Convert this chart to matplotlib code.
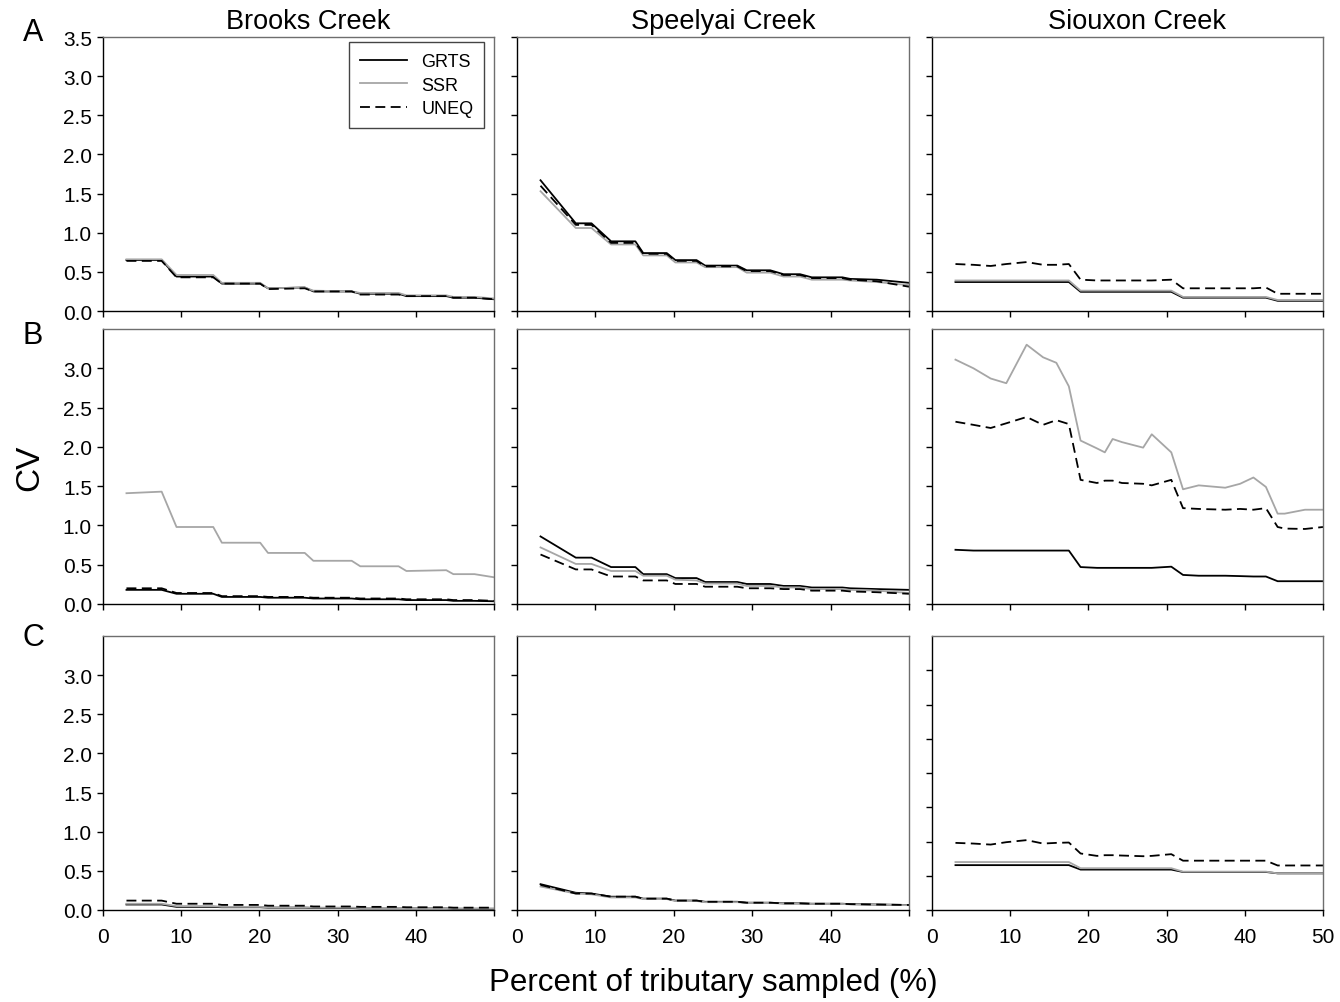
import matplotlib
matplotlib.use("Agg")
import matplotlib.pyplot as plt

plt.rcParams['font.family'] = ['Liberation Sans', 'DejaVu Sans']

# ---- data ----
creeks = ['Brooks Creek', 'Speelyai Creek', 'Siouxon Creek']
row_letters = ['A', 'B', 'C']
series_names = ['GRTS', 'SSR', 'UNEQ']

brooks_x = [3, 7.5, 9.4, 14.1, 15.2, 20.1, 21.1, 25.8, 26.9, 31.8, 32.9, 37.8, 38.8, 43.9, 44.8, 47.5, 50]
brooks_A_grts = [0.65, 0.65, 0.44, 0.44, 0.35, 0.35, 0.29, 0.30, 0.25, 0.25, 0.22, 0.22, 0.19, 0.19, 0.17, 0.17, 0.15]
brooks_A_ssr = [0.66, 0.66, 0.46, 0.46, 0.36, 0.36, 0.29, 0.30, 0.26, 0.25, 0.23, 0.23, 0.20, 0.20, 0.18, 0.18, 0.16]
brooks_A_uneq = [0.64, 0.64, 0.43, 0.43, 0.35, 0.35, 0.28, 0.29, 0.25, 0.25, 0.21, 0.21, 0.19, 0.19, 0.17, 0.17, 0.15]
brooks_B_grts = [0.18, 0.18, 0.13, 0.13, 0.09, 0.09, 0.08, 0.08, 0.07, 0.07, 0.06, 0.06, 0.05, 0.05, 0.04, 0.04, 0.035]
brooks_B_ssr = [1.41, 1.43, 0.98, 0.98, 0.78, 0.78, 0.65, 0.65, 0.55, 0.55, 0.48, 0.48, 0.42, 0.43, 0.38, 0.38, 0.34]
brooks_B_uneq = [0.20, 0.20, 0.14, 0.14, 0.10, 0.10, 0.09, 0.09, 0.08, 0.08, 0.07, 0.07, 0.06, 0.06, 0.05, 0.05, 0.04]
brooks_C_grts = [0.07, 0.07, 0.04, 0.04, 0.035, 0.035, 0.03, 0.03, 0.025, 0.025, 0.02, 0.02, 0.02, 0.02, 0.015, 0.015, 0.015]
brooks_C_ssr = [0.08, 0.08, 0.05, 0.05, 0.04, 0.04, 0.035, 0.035, 0.03, 0.03, 0.025, 0.025, 0.02, 0.02, 0.02, 0.02, 0.02]
brooks_C_uneq = [0.12, 0.12, 0.08, 0.08, 0.065, 0.065, 0.055, 0.055, 0.045, 0.045, 0.04, 0.04, 0.035, 0.035, 0.03, 0.03, 0.03]

speel_x = [3, 7.5, 9.5, 12, 15.1, 16.1, 19.1, 20.2, 22.9, 24, 28.1, 29.3, 32.3, 34, 36.1, 37.6, 41.5, 42.5, 45.9, 50]
speel_A_grts = [1.67, 1.12, 1.12, 0.89, 0.89, 0.74, 0.74, 0.65, 0.65, 0.58, 0.58, 0.52, 0.52, 0.47, 0.47, 0.43, 0.43, 0.41, 0.40, 0.36]
speel_A_ssr = [1.53, 1.06, 1.06, 0.85, 0.85, 0.71, 0.71, 0.62, 0.62, 0.56, 0.56, 0.49, 0.49, 0.44, 0.44, 0.40, 0.40, 0.39, 0.37, 0.33]
speel_A_uneq = [1.60, 1.10, 1.10, 0.87, 0.87, 0.73, 0.73, 0.64, 0.64, 0.57, 0.57, 0.51, 0.51, 0.46, 0.46, 0.42, 0.42, 0.40, 0.38, 0.31]
speel_B_grts = [0.86, 0.59, 0.59, 0.47, 0.47, 0.38, 0.38, 0.33, 0.33, 0.28, 0.28, 0.255, 0.255, 0.23, 0.23, 0.21, 0.21, 0.20, 0.19, 0.18]
speel_B_ssr = [0.72, 0.51, 0.51, 0.42, 0.42, 0.36, 0.36, 0.31, 0.30, 0.26, 0.26, 0.23, 0.23, 0.21, 0.21, 0.19, 0.19, 0.18, 0.17, 0.14]
speel_B_uneq = [0.63, 0.44, 0.44, 0.35, 0.35, 0.30, 0.30, 0.255, 0.255, 0.22, 0.22, 0.20, 0.20, 0.19, 0.19, 0.17, 0.17, 0.16, 0.15, 0.13]
speel_C_grts = [0.33, 0.22, 0.21, 0.17, 0.17, 0.145, 0.145, 0.12, 0.12, 0.105, 0.105, 0.093, 0.093, 0.085, 0.085, 0.08, 0.08, 0.075, 0.07, 0.064]
speel_C_ssr = [0.30, 0.21, 0.20, 0.16, 0.16, 0.14, 0.14, 0.115, 0.115, 0.10, 0.10, 0.09, 0.09, 0.082, 0.082, 0.077, 0.077, 0.072, 0.068, 0.062]
speel_C_uneq = [0.32, 0.21, 0.21, 0.17, 0.17, 0.145, 0.145, 0.12, 0.12, 0.105, 0.105, 0.093, 0.093, 0.085, 0.085, 0.08, 0.08, 0.075, 0.07, 0.064]

sioux_x = [3, 5.3, 7.5, 9.5, 12.1, 14.2, 15.9, 17.5, 19.0, 21.1, 22.1, 23.1, 24.3, 27.0, 28.1,
           30.6, 32.1, 34.1, 37.5, 39.4, 41.1, 42.7, 44.2, 45.1, 47.7, 50]
sioux_A_grts = [0.37] * 8 + [0.245] * 8 + [0.17] * 6 + [0.13] * 4
sioux_A_ssr = [0.39] * 8 + [0.26] * 8 + [0.18] * 6 + [0.14] * 4
sioux_A_uneq = [0.60, 0.59, 0.575, 0.60, 0.625, 0.59, 0.59, 0.60, 0.40, 0.39, 0.39, 0.39, 0.39,
                0.39, 0.39, 0.40, 0.29, 0.29, 0.29, 0.29, 0.29, 0.30, 0.22, 0.22, 0.22, 0.22]
sioux_B_grts = [0.69, 0.68, 0.68, 0.68, 0.68, 0.68, 0.68, 0.68, 0.47, 0.46, 0.46, 0.46, 0.46,
                0.46, 0.46, 0.475, 0.37, 0.36, 0.36, 0.355, 0.35, 0.35, 0.29, 0.29, 0.29, 0.29]
sioux_B_ssr = [3.11, 3.00, 2.87, 2.81, 3.30, 3.14, 3.07, 2.77, 2.08, 1.98, 1.93, 2.10, 2.06,
               1.99, 2.16, 1.93, 1.46, 1.51, 1.48, 1.53, 1.61, 1.49, 1.15, 1.15, 1.20, 1.20]
sioux_B_uneq = [2.32, 2.28, 2.24, 2.30, 2.38, 2.28, 2.34, 2.29, 1.58, 1.54, 1.57, 1.57, 1.54,
                1.53, 1.51, 1.58, 1.22, 1.21, 1.20, 1.21, 1.20, 1.22, 0.98, 0.96, 0.955, 0.98]
sioux_C_grts = [0.655] * 8 + [0.59] * 8 + [0.555] * 6 + [0.535] * 4
sioux_C_ssr = [0.70] * 8 + [0.61] * 8 + [0.56] * 6 + [0.535] * 4
sioux_C_uneq = [0.98, 0.97, 0.955, 0.99, 1.02, 0.97, 0.98, 0.985, 0.825, 0.79, 0.80, 0.80, 0.795,
                0.785, 0.79, 0.815, 0.72, 0.72, 0.72, 0.72, 0.72, 0.72, 0.65, 0.65, 0.65, 0.65]

panel_x = [brooks_x, speel_x, sioux_x]
panel_data = [
    [(brooks_A_grts, brooks_A_ssr, brooks_A_uneq), (speel_A_grts, speel_A_ssr, speel_A_uneq), (sioux_A_grts, sioux_A_ssr, sioux_A_uneq)],
    [(brooks_B_grts, brooks_B_ssr, brooks_B_uneq), (speel_B_grts, speel_B_ssr, speel_B_uneq), (sioux_B_grts, sioux_B_ssr, sioux_B_uneq)],
    [(brooks_C_grts, brooks_C_ssr, brooks_C_uneq), (speel_C_grts, speel_C_ssr, speel_C_uneq), (sioux_C_grts, sioux_C_ssr, sioux_C_uneq)],
]

x_ticks = [0, 10, 20, 30, 40, 50]
y_ticks_top = [0.0, 0.5, 1.0, 1.5, 2.0, 2.5, 3.0, 3.5]
y_ticks_rest = [0.0, 0.5, 1.0, 1.5, 2.0, 2.5, 3.0]

# ---- figure ----
W, H = 1340, 1003
fig = plt.figure(figsize=(W / 100, H / 100), dpi=100)

col_px = [(103, 494), (517, 909), (932, 1323)]
row_px = [(38, 312), (330, 605), (637, 911)]
letter_y = [33, 336, 638]

styles = [dict(color='black', lw=1.3, ls='-'),
          dict(color='#a6a6a6', lw=1.3, ls='-'),
          dict(color='black', lw=1.3, ls=(0, (5.5, 3)))]

for r in range(3):
    for c in range(3):
        x0, x1 = col_px[c]
        y0, y1 = row_px[r]
        ax = fig.add_axes([x0 / W, 1 - y1 / H, (x1 - x0) / W, (y1 - y0) / H])
        for name, ys, st in zip(series_names, panel_data[r][c], styles):
            ax.plot(panel_x[c], ys, label=name, **st)

        ax.set_xlim(0, 50)
        # the Siouxon C panel was drawn on a 0-4 axis in the original
        if r == 2 and c == 2:
            ax.set_ylim(0, 4.0)
            ax.set_yticks([0.5 * i for i in range(8)])
        else:
            ax.set_ylim(0, 3.5)
            ax.set_yticks(y_ticks_top if r == 0 else y_ticks_rest)
        ax.set_xticks(x_ticks)

        ax.tick_params(direction='out', length=4, width=1, labelsize=15, pad=4, colors='black')
        ax.tick_params(axis='x', pad=8)
        if c == 0:
            ax.set_yticklabels(['%.1f' % v for v in ax.get_yticks()])
        else:
            ax.set_yticklabels([])
        if r == 2:
            labs = [str(v) for v in x_ticks]
            if c < 2:
                labs[-1] = ''
            ax.set_xticklabels(labs)
        else:
            ax.set_xticklabels([])

        for side in ['left', 'bottom']:
            ax.spines[side].set_color('black')
            ax.spines[side].set_linewidth(1.0)
        for side in ['top', 'right']:
            ax.spines[side].set_color('#6e6e6e')
            ax.spines[side].set_linewidth(1.0)

        if r == 0:
            fig.text(((x0 + x1) / 2 + 10) / W, 1 - 22 / H, creeks[c], ha='center', va='center', fontsize=19.5)
        if r == 0 and c == 0:
            leg = ax.legend(loc='upper right', bbox_to_anchor=(0.975, 0.98), borderaxespad=0,
                            fontsize=13, handlelength=2.6, labelspacing=0.35, fancybox=False,
                            framealpha=1, edgecolor='#444444', borderpad=0.6, handletextpad=0.8)
            leg.get_frame().set_linewidth(1.0)

for r, letter in enumerate(row_letters):
    fig.text(33 / W, 1 - letter_y[r] / H, letter, ha='center', va='center', fontsize=22)

fig.text(30 / W, 1 - 468 / H, 'CV', rotation=90, ha='center', va='center', fontsize=24)
fig.text(713 / W, 1 - 983 / H, 'Percent of tributary sampled (%)', ha='center', va='center', fontsize=22.5)

fig.savefig('out.png', dpi=100)
